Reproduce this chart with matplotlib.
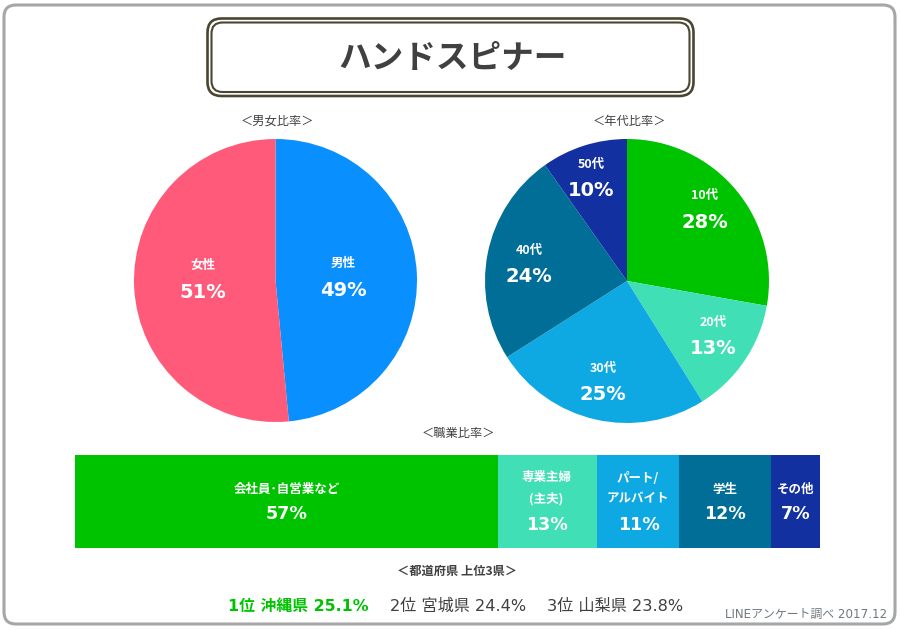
# -*- coding: utf-8 -*-
import matplotlib
matplotlib.use("Agg")
import matplotlib.pyplot as plt
from matplotlib.patches import FancyBboxPatch

plt.rcParams['font.family'] = ['DejaVu Sans', 'Noto Sans CJK JP']

# data
title = "ハンドスピナー"

gender_labels = ["男性", "女性"]
gender_values = [48.5, 51.5]
gender_text = ["49%", "51%"]
gender_colors = ["#0A8FFF", "#FF5A7A"]

age_labels = ["10代", "20代", "30代", "40代", "50代"]
age_values = [27.8, 13.3, 24.9, 24.2, 9.8]
age_text = ["28%", "13%", "25%", "24%", "10%"]
age_colors = ["#00C300", "#41DFB5", "#0EA9E3", "#006E96", "#1230A0"]

job_labels = ["会社員･自営業など", "専業主婦\n(主夫)", "パート/\nアルバイト", "学生", "その他"]
job_values = [56.8, 13.2, 11.1, 12.3, 6.6]
job_text = ["57%", "13%", "11%", "12%", "7%"]
job_colors = ["#00C300", "#41DFB5", "#0EA9E3", "#006E96", "#1230A0"]

pref_text = ["1位 沖縄県 25.1%", "2位 宮城県 24.4%", "3位 山梨県 23.8%"]

W, H = 900, 630
dark = "#404040"
white = "white"
jp = ['Noto Sans CJK JP', 'DejaVu Sans']

fig = plt.figure(figsize=(W / 100, H / 100), dpi=100, facecolor="white")


# pixel coordinate axes, y downward
def pixel_axes(z):
    ax = fig.add_axes([0, 0, 1, 1], zorder=z)
    ax.set_xlim(0, W)
    ax.set_ylim(H, 0)
    ax.axis("off")
    return ax


bg = pixel_axes(0)
fg = pixel_axes(5)


def rbox(x0, y0, x1, y1, rad, ec, lw):
    bg.add_patch(FancyBboxPatch((x0 + rad, y0 + rad), x1 - x0 - 2 * rad, y1 - y0 - 2 * rad,
                                boxstyle="round,pad=%g,rounding_size=%g" % (rad, rad),
                                fc="white", ec=ec, lw=lw))


# outer frame and the double title frame
rbox(4, 5, 895, 624, 12, "#A6A6A6", 2.2)
rbox(207.5, 18.5, 693.5, 96, 14, "#4A4632", 1.9)
rbox(211.5, 22.5, 689.5, 92, 11, "#4A4632", 1.5)

fg.text(453, 58.5, title, fontsize=23.5, fontweight="bold", color=dark, ha="center", va="center", family=jp)


def section(x, y, s, bold=False):
    fg.text(x, y, s, fontsize=8.8, color=dark, ha="center", va="center",
            fontweight="bold" if bold else "normal", family=jp)


section(277, 121, "＜男女比率＞")
section(629, 121, "＜年代比率＞")
section(458, 433, "＜職業比率＞")
section(457, 571, "＜都道府県 上位3県＞", bold=True)


def pie_axes(cx, cy, r):
    ax = fig.add_axes([(cx - r) / W, 1 - (cy + r) / H, 2 * r / W, 2 * r / H], zorder=1)
    return ax


def finish_pie(ax):
    ax.set_xlim(-1, 1)
    ax.set_ylim(-1, 1)
    ax.axis("off")


def pie_label(px, py, name, pct):
    fg.text(px, py - 15.5, name, fontsize=9, fontweight="bold", color=white, ha="center", va="center", family=jp)
    fg.text(px, py + 11, pct, fontsize=14, fontweight="bold", color=white, ha="center", va="center")


# gender pie
ax1 = pie_axes(275.5, 280.5, 141.5)
ax1.pie(gender_values, colors=gender_colors, startangle=90, counterclock=False, radius=1.0)
finish_pie(ax1)
for px, py, n, p in zip([343, 203], [279, 281], gender_labels, gender_text):
    pie_label(px, py, n, p)

# age pie
ax2 = pie_axes(627, 281, 142)
ax2.pie(age_values, colors=age_colors, startangle=90, counterclock=False, radius=1.0)
finish_pie(ax2)
for px, py, n, p in zip([705, 713, 603, 529, 591], [211, 338, 384, 266, 180], age_labels, age_text):
    pie_label(px, py, n, p)

# job bar
ax3 = fig.add_axes([75 / W, 1 - 548 / H, 745 / W, 93 / H], zorder=1)
left = 0
for v, c in zip(job_values, job_colors):
    ax3.barh(0, v, left=left, height=1, color=c, linewidth=0)
    left += v
ax3.set_xlim(0, left)
ax3.set_ylim(-0.5, 0.5)
ax3.axis("off")

job_x = [287, 547, 639, 725, 796]
for x, name, pct in zip(job_x, job_labels, job_text):
    if "\n" in name:
        a, b = name.split("\n")
        fg.text(x - 1, 478, a, fontsize=9, fontweight="bold", color=white, ha="center", va="center", family=jp)
        fg.text(x - 1, 499, b, fontsize=9, fontweight="bold", color=white, ha="center", va="center", family=jp)
        fg.text(x, 525, pct, fontsize=12.6, fontweight="bold", color=white, ha="center", va="center")
    else:
        fg.text(x, 489, name, fontsize=9, fontweight="bold", color=white, ha="center", va="center", family=jp)
        fg.text(x, 514, pct, fontsize=12.6, fontweight="bold", color=white, ha="center", va="center")

# prefecture ranking
fg.text(298.5, 606, pref_text[0], fontsize=11.4, fontweight="bold", color="#00C300", ha="center", va="center")
fg.text(458, 606, pref_text[1], fontsize=11.6, color=dark, ha="center", va="center")
fg.text(615.5, 606, pref_text[2], fontsize=11.6, color=dark, ha="center", va="center")

fg.text(887, 614, "LINEアンケート調べ 2017.12", fontsize=8.6, color="#707880", ha="right", va="center")

fig.savefig("out.png", dpi=100)
